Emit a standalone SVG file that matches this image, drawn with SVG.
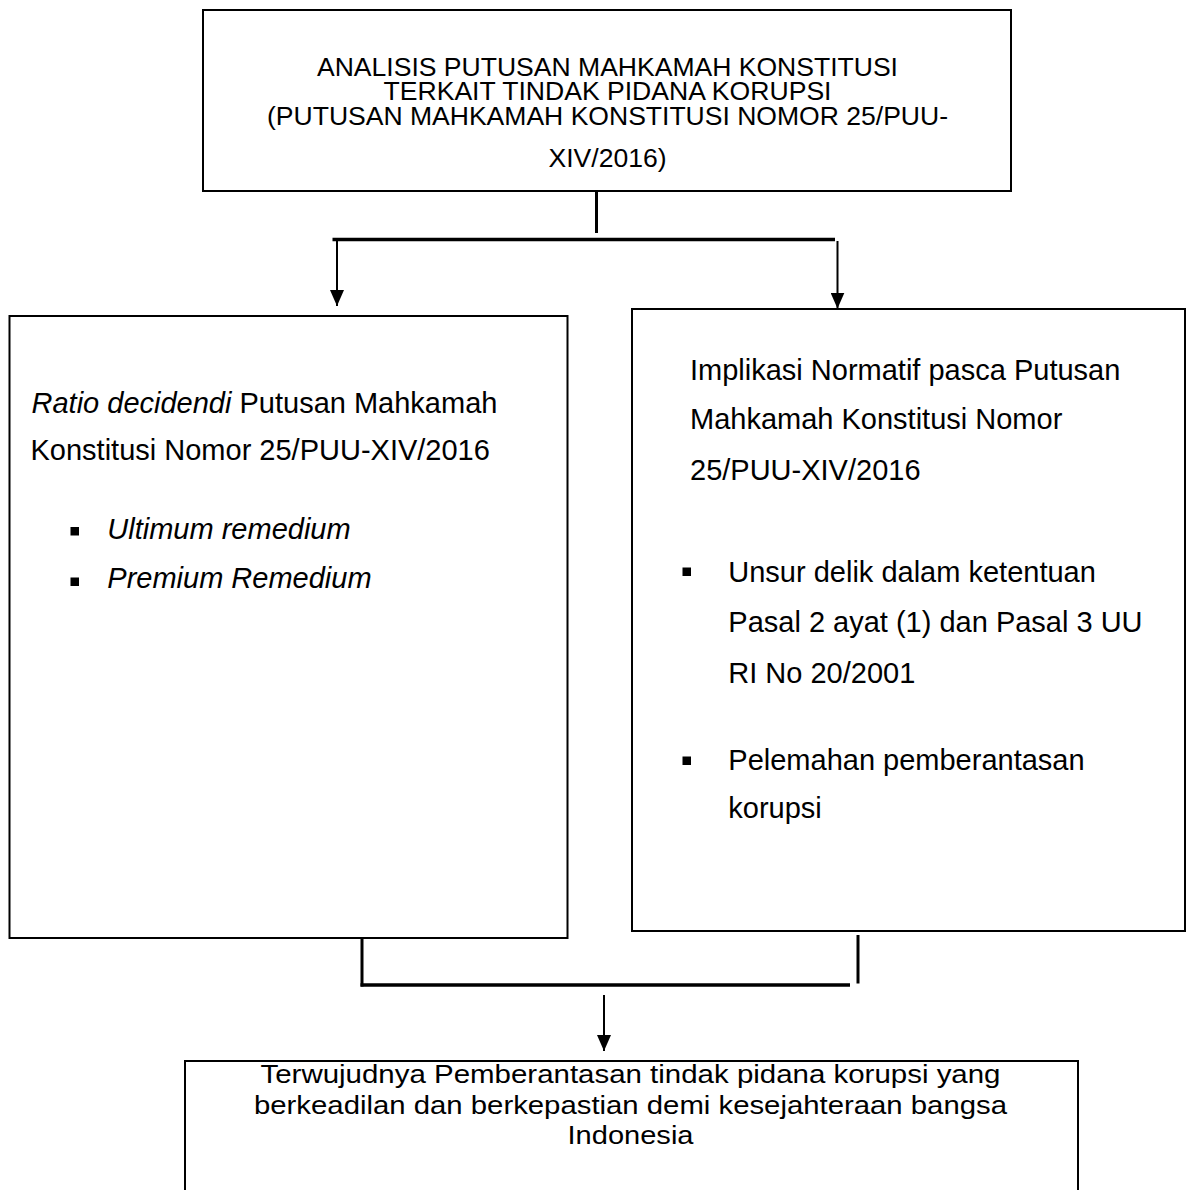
<svg xmlns="http://www.w3.org/2000/svg" width="1193" height="1190" viewBox="0 0 1193 1190">
  <style>
    .box { fill: #ffffff; stroke: #000000; stroke-width: 2; }
    .t { font-family: "Liberation Sans", Arial, sans-serif; fill: #000000; }
    .t26 { font-size: 25px; }
    .t28 { font-size: 26px; }
    .t29 { font-size: 29px; }
    .it { font-style: italic; }
    .bul { fill: #000000; }
    .bar { stroke: #000000; stroke-width: 3.5; fill: none; }
    .wire { stroke: #000000; stroke-width: 3; fill: none; }
    .arrow { stroke: #000000; stroke-width: 2; fill: none; marker-end: url(#ah); }
  </style>
  <defs>
    <marker id="ah" viewBox="0 0 16 14" markerWidth="16" markerHeight="14" refX="16" refY="7" orient="auto" markerUnits="userSpaceOnUse">
      <path d="M0,0 L16,7 L0,14 Z" fill="#000000"/>
    </marker>
  </defs>
  <rect x="0" y="0" width="1193" height="1190" fill="#ffffff"/>

  <g id="connectors">
    <line class="wire" x1="596.5" y1="191" x2="596.5" y2="233"/>
    <line class="bar" x1="332.5" y1="239.5" x2="835" y2="239.5"/>
    <line class="arrow" x1="337" y1="241" x2="337" y2="306"/>
    <line class="arrow" x1="837.5" y1="241" x2="837.5" y2="308.5"/>
    <line class="wire" x1="362" y1="938" x2="362" y2="986.5"/>
    <line class="bar" x1="360.5" y1="985" x2="850" y2="985"/>
    <line class="wire" x1="858" y1="935" x2="858" y2="983.5"/>
    <line class="arrow" x1="604" y1="995" x2="604" y2="1051"/>
  </g>

  <g id="node-top">
    <rect class="box" x="203" y="10" width="808" height="181"/>
    <g class="t t26" text-anchor="middle">
      <text x="607.5" y="76" textLength="581" lengthAdjust="spacingAndGlyphs">ANALISIS PUTUSAN MAHKAMAH KONSTITUSI</text>
      <text x="607.5" y="100" textLength="448" lengthAdjust="spacingAndGlyphs">TERKAIT TINDAK PIDANA KORUPSI</text>
      <text x="607.5" y="125" textLength="681" lengthAdjust="spacingAndGlyphs">(PUTUSAN MAHKAMAH KONSTITUSI NOMOR 25/PUU-</text>
      <text x="607.5" y="167" textLength="118" lengthAdjust="spacingAndGlyphs">XIV/2016)</text>
    </g>
  </g>

  <g id="node-left">
    <rect class="box" x="9.5" y="316" width="558" height="622"/>
    <g class="t t29">
      <text x="31.5" y="412.7"><tspan class="it">Ratio decidendi</tspan> Putusan Mahkamah</text>
      <text x="30.5" y="460">Konstitusi Nomor 25/PUU-XIV/2016</text>
      <text class="it" x="107.3" y="539.3">Ultimum remedium</text>
      <text class="it" x="107.3" y="588.3">Premium Remedium</text>
    </g>
    <rect class="bul" x="70.5" y="527" width="8.5" height="8.5"/>
    <rect class="bul" x="70.5" y="577.5" width="8.5" height="8.5"/>
  </g>

  <g id="node-right">
    <rect class="box" x="632" y="309" width="553" height="622"/>
    <g class="t t29">
      <text x="690" y="380">Implikasi Normatif pasca Putusan</text>
      <text x="690" y="429.3">Mahkamah Konstitusi Nomor</text>
      <text x="690" y="480">25/PUU-XIV/2016</text>
      <text x="728.3" y="582.3">Unsur delik dalam ketentuan</text>
      <text x="728.3" y="632.3">Pasal 2 ayat (1) dan Pasal 3 UU</text>
      <text x="728.3" y="683.3">RI No 20/2001</text>
      <text x="728.3" y="770">Pelemahan pemberantasan</text>
      <text x="728.3" y="818.3">korupsi</text>
    </g>
    <rect class="bul" x="682.5" y="567.5" width="8.5" height="8.5"/>
    <rect class="bul" x="682.5" y="756.5" width="8.5" height="8.5"/>
  </g>

  <g id="node-bottom">
    <rect class="box" x="185" y="1061" width="893" height="200"/>
    <g class="t t28" text-anchor="middle">
      <text x="630.5" y="1083" textLength="740" lengthAdjust="spacingAndGlyphs">Terwujudnya Pemberantasan tindak pidana korupsi yang</text>
      <text x="630.5" y="1114" textLength="753" lengthAdjust="spacingAndGlyphs">berkeadilan dan berkepastian demi kesejahteraan bangsa</text>
      <text x="630.5" y="1144" textLength="126" lengthAdjust="spacingAndGlyphs">Indonesia</text>
    </g>
  </g>
</svg>
